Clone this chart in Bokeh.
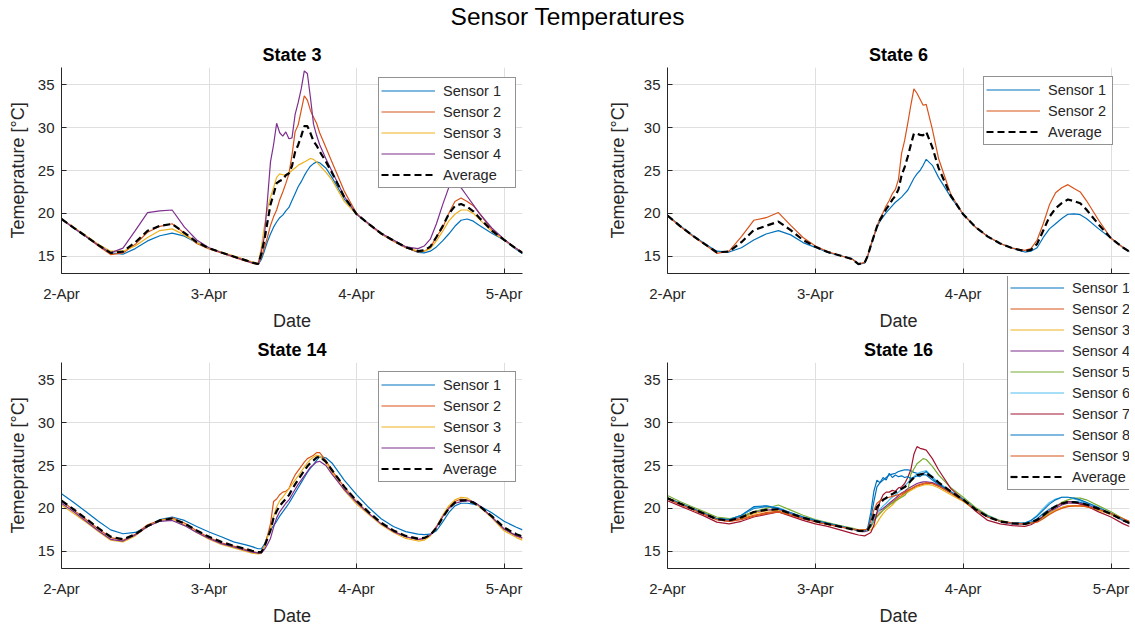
import numpy as np
from bokeh.plotting import figure
from bokeh.models import Range1d, FixedTicker, Legend, LegendItem, Div
from bokeh.layouts import column, row
from bokeh.embed import file_html
from bokeh.resources import INLINE

# ---------------- data ----------------
hours = [0, 2, 4, 6, 8, 10, 12, 14, 16, 18, 20, 22, 24, 26, 28, 30,
         31, 32, 32.5, 33, 33.5, 34, 34.5, 35, 35.5, 36, 36.5, 37, 37.5, 38, 38.5, 39, 39.5, 40, 40.5, 41, 41.5, 42,
         43, 44, 46, 48, 50, 52, 54, 56, 58,
         59, 60, 61, 62, 63, 64, 65, 66, 67, 68,
         70, 72, 74, 75]
tick_labels = ["2-Apr", "3-Apr", "4-Apr", "5-Apr"]
y_ticks = [15, 20, 25, 30, 35]

# State 3
s3_sensor1 = [19.35, 18.3, 17.3, 16.3, 15.4, 15.25, 15.9, 16.8, 17.4, 17.7, 17.35, 16.6, 15.95, 15.45, 15.0, 14.55,
              14.3, 14.1, 14.6, 15.6, 16.7, 17.6, 18.4, 19.0, 19.5, 19.8, 20.3, 20.7, 21.5, 22.3, 23.1, 23.7, 24.4, 25.0, 25.5, 25.8, 26.0, 25.9,
              25.3, 24.2, 21.7, 19.9, 18.8, 17.65, 16.85, 16.05, 15.45,
              15.4, 15.6, 16.1, 16.8, 17.6, 18.5, 19.2, 19.35, 19.1, 18.6,
              17.7, 16.9, 15.8, 15.3]
s3_sensor2 = [19.35, 18.3, 17.3, 16.2, 15.2, 15.4, 16.4, 17.8, 18.5, 18.8, 17.7, 16.5, 15.85, 15.4, 14.9, 14.45,
              14.2, 14.05, 14.9, 16.0, 17.2, 18.6, 19.6, 20.4, 21.6, 22.5, 23.5, 24.6, 26.8, 29.5, 30.3, 32.0, 33.7, 33.2, 32.0, 31.2, 30.5, 29.4,
              27.7, 26.0, 22.6, 20.0, 18.7, 17.6, 16.75, 16.0, 15.5,
              15.6, 16.0, 17.3, 18.3, 20.0, 21.4, 21.8, 21.4, 20.9, 20.0,
              18.1, 16.9, 15.9, 15.5]
s3_sensor3 = [19.35, 18.4, 17.4, 16.4, 15.6, 15.6, 16.2, 17.2, 18.0, 18.2, 17.5, 16.6, 15.95, 15.5, 15.05, 14.6,
              14.35, 14.2, 16.0, 18.5, 20.5, 21.9, 23.0, 24.2, 24.6, 24.5, 24.5, 24.7, 25.0, 25.3, 25.6, 25.8, 26.0, 26.2, 26.4, 26.3, 26.0, 25.6,
              24.8, 23.9, 21.4, 19.9, 18.8, 17.7, 16.85, 16.1, 15.6,
              15.6, 15.9, 16.8, 17.9, 19.1, 19.9, 20.4, 20.4, 20.0, 19.3,
              17.9, 16.9, 15.9, 15.4]
s3_sensor4 = [19.35, 18.3, 17.3, 16.3, 15.4, 15.95, 18.0, 20.1, 20.3, 20.4, 18.4, 16.9, 16.0, 15.45, 14.95, 14.5,
              14.25, 14.1, 15.5, 17.3, 21.5, 26.0, 28.0, 30.5, 29.4, 29.0, 29.5, 28.7, 28.8, 31.5, 32.9, 34.5, 36.6, 36.3, 33.5, 30.4, 29.1, 28.0,
              26.4, 24.9, 22.0, 19.9, 18.8, 17.7, 16.9, 16.1, 15.9,
              16.2, 17.0, 18.8, 21.0, 23.0, 23.6, 23.0, 22.0, 21.0, 20.0,
              18.3, 17.0, 15.9, 15.4]

# State 6
s6_sensor1 = [19.75, 18.6, 17.5, 16.5, 15.6, 15.5, 16.0, 16.9, 17.6, 18.0, 17.5, 16.6, 16.05, 15.45, 15.1, 14.7,
              14.1, 14.2, 15.0, 16.2, 17.3, 18.4, 19.1, 19.6, 20.1, 20.5, 20.9, 21.3, 21.6, 21.9, 22.3, 22.7, 23.4, 24.1, 24.6, 25.0, 25.6, 26.3,
              25.6, 24.2, 21.9, 19.9, 18.4, 17.3, 16.5, 15.95, 15.5,
              15.6, 16.0, 17.2, 18.2, 18.8, 19.4, 19.9, 19.95, 19.85, 19.4,
              18.2, 17.1, 16.0, 15.5]
s6_sensor2 = [19.75, 18.5, 17.4, 16.4, 15.35, 15.6, 17.3, 19.2, 19.5, 20.1, 18.6, 17.2, 16.2, 15.55, 15.1, 14.65,
              14.1, 14.3, 15.1, 16.3, 17.4, 18.5, 19.4, 20.1, 20.9, 21.5, 22.3, 22.8, 24.0, 27.0, 28.5, 30.5, 32.6, 34.5, 34.0, 33.3, 32.6, 32.7,
              29.8, 26.4, 22.2, 19.9, 18.4, 17.3, 16.5, 15.95, 15.7,
              15.9, 16.9, 18.8, 21.0, 22.4, 23.0, 23.35, 22.9, 22.5, 21.5,
              19.2, 17.1, 16.0, 15.6]

# State 14
s14_sensor1 = [21.7, 20.7, 19.6, 18.5, 17.5, 17.05, 17.2, 17.9, 18.7, 19.0, 18.6, 17.9, 17.25, 16.7, 16.1, 15.75,
               15.55, 15.3, 15.3, 15.8, 16.7, 17.5, 18.0, 18.5, 19.1, 19.6, 20.1, 20.6, 21.2, 21.8, 22.4, 23.0, 23.6, 24.2, 24.7, 25.1, 25.6, 26.0,
               25.9, 25.3, 23.3, 21.6, 20.1, 18.8, 17.9, 17.3, 17.0,
               16.95, 17.0, 17.4, 18.4, 19.5, 20.3, 20.6, 20.6, 20.5, 20.3,
               19.5, 18.5, 17.8, 17.5]
s14_sensor2 = [20.9, 19.8, 18.7, 17.6, 16.6, 16.3, 17.0, 18.1, 18.6, 18.9, 18.3, 17.4, 16.6, 16.0, 15.6, 15.2,
               15.0, 14.8, 14.8, 15.6, 16.8, 18.2, 20.8, 21.1, 21.6, 21.9, 22.0, 22.3, 23.2, 23.9, 24.4, 24.9, 25.4, 25.8, 26.0, 26.2, 26.5, 26.5,
               25.6, 24.4, 22.5, 20.8, 19.4, 18.2, 17.35, 16.7, 16.35,
               16.5, 16.9, 17.9, 19.1, 20.1, 20.8, 21.1, 21.0, 20.7, 20.3,
               19.0, 17.6, 16.8, 16.5]
s14_sensor3 = [20.4, 19.4, 18.4, 17.3, 16.3, 16.1, 16.8, 17.9, 18.6, 18.8, 18.1, 17.2, 16.4, 15.8, 15.4, 15.0,
               14.8, 14.7, 14.75, 15.5, 16.6, 17.6, 19.0, 20.2, 20.9, 21.3, 21.8, 22.3, 22.8, 23.3, 23.8, 24.3, 24.8, 25.3, 25.7, 26.0, 26.2, 26.1,
               25.3, 24.2, 22.1, 20.5, 19.3, 18.1, 17.2, 16.5, 16.2,
               16.3, 16.8, 17.8, 19.2, 20.3, 21.0, 21.3, 21.2, 20.7, 20.2,
               18.9, 17.4, 16.6, 16.3]
s14_sensor4 = [20.6, 19.6, 18.5, 17.4, 16.4, 16.2, 16.9, 17.9, 18.5, 18.6, 18.0, 17.2, 16.5, 15.9, 15.5, 15.1,
               14.9, 14.8, 14.8, 15.2, 15.8, 16.5, 17.8, 18.9, 19.6, 20.1, 20.6, 21.0, 21.6, 22.2, 22.8, 23.3, 23.8, 24.3, 24.8, 25.1, 25.4, 25.5,
               25.0, 24.0, 22.2, 20.7, 19.4, 18.2, 17.3, 16.7, 16.4,
               16.5, 16.9, 17.8, 19.0, 20.0, 20.6, 20.8, 20.9, 20.8, 20.3,
               19.0, 17.6, 16.8, 16.6]

# State 16
s16_sensor1 = [21.2, 20.6, 20.0, 19.4, 18.8, 18.7, 19.2, 20.0, 20.2, 20.0, 19.5, 19.0, 18.6, 18.25, 17.95, 17.6,
               17.45, 17.4, 17.6, 18.8, 20.8, 22.5, 23.0, 23.3, 23.6, 23.9, 24.0, 24.1, 24.3, 24.4, 24.5, 24.5, 24.4, 24.2, 24.1, 24.0, 23.9, 23.9,
               23.3, 22.8, 21.9, 21.1, 19.95, 19.1, 18.5, 18.3, 18.2,
               18.4, 18.8, 19.4, 19.9, 20.3, 20.6, 20.8, 20.8, 20.7, 20.5,
               20.0, 19.4, 18.6, 18.3]
s16_sensor2 = [21.1, 20.5, 19.9, 19.3, 18.7, 18.5, 18.8, 19.2, 19.5, 19.7, 19.3, 18.8, 18.45, 18.15, 17.85, 17.55,
               17.45, 17.5, 17.5, 17.9, 18.6, 19.1, 19.5, 19.8, 20.1, 20.4, 20.7, 21.0, 21.3, 21.5, 21.8, 22.0, 22.2, 22.4, 22.6, 22.7, 22.8, 22.9,
               22.9, 22.6, 21.8, 20.9, 19.9, 19.0, 18.5, 18.25, 18.2,
               18.3, 18.5, 18.9, 19.4, 19.8, 20.1, 20.3, 20.3, 20.3, 20.2,
               19.8, 19.3, 18.6, 18.4]
s16_sensor3 = [21.2, 20.6, 20.0, 19.4, 18.8, 18.6, 18.9, 19.4, 19.7, 19.8, 19.3, 18.85, 18.5, 18.2, 17.9, 17.6,
               17.45, 17.4, 17.4, 17.5, 17.8, 18.3, 18.9, 19.4, 19.8, 20.1, 20.4, 20.8, 21.1, 21.4, 21.6, 21.9, 22.1, 22.3, 22.5, 22.6, 22.7, 22.8,
               22.7, 22.4, 21.6, 20.8, 19.8, 19.0, 18.5, 18.3, 18.2,
               18.3, 18.5, 18.9, 19.4, 19.8, 20.1, 20.3, 20.3, 20.3, 20.2,
               19.8, 19.3, 18.6, 18.3]
s16_sensor4 = [21.2, 20.6, 20.0, 19.4, 18.8, 18.6, 19.0, 19.6, 19.8, 19.9, 19.4, 18.9, 18.5, 18.2, 17.9, 17.6,
               17.4, 17.3, 17.4, 18.0, 18.9, 19.5, 19.8, 20.0, 20.3, 20.6, 20.9, 21.2, 21.5, 21.8, 22.0, 22.3, 22.5, 22.7, 22.9, 23.0, 23.1, 23.1,
               23.0, 22.7, 21.9, 21.0, 19.9, 19.0, 18.5, 18.2, 18.2,
               18.3, 18.6, 19.1, 19.6, 20.0, 20.4, 20.6, 20.6, 20.6, 20.4,
               20.0, 19.4, 18.6, 18.2]
s16_sensor5 = [21.5, 20.8, 20.2, 19.6, 19.0, 18.8, 19.1, 19.6, 20.0, 20.4, 19.8, 19.2, 18.7, 18.35, 18.0, 17.7,
               17.5, 17.5, 17.5, 17.8, 18.5, 19.0, 19.4, 19.8, 20.1, 20.4, 20.6, 20.9, 21.1, 21.3, 21.5, 22.0, 24.0, 24.6, 25.2, 25.5, 25.8, 25.7,
               24.9, 23.9, 22.4, 21.3, 20.1, 19.2, 18.6, 18.3, 18.2,
               18.3, 18.5, 19.0, 19.6, 20.2, 20.7, 21.0, 21.2, 21.2, 21.0,
               20.3, 19.6, 18.8, 18.4]
s16_sensor6 = [21.2, 20.6, 20.0, 19.4, 18.8, 18.7, 19.2, 20.1, 20.3, 20.1, 19.5, 19.0, 18.6, 18.25, 17.95, 17.6,
               17.45, 17.4, 17.5, 18.0, 18.8, 19.4, 19.9, 20.3, 20.6, 21.0, 21.3, 21.6, 21.9, 22.2, 22.6, 23.0, 23.4, 23.7, 24.0, 24.2, 24.3, 24.4,
               23.7, 23.0, 22.0, 21.1, 19.9, 19.1, 18.5, 18.3, 18.3,
               18.6, 19.2, 20.0, 20.7, 21.1, 21.3, 21.3, 21.1, 20.9, 20.6,
               20.0, 19.4, 18.6, 18.3]
s16_sensor7 = [20.9, 20.3, 19.7, 19.1, 18.4, 18.2, 18.5, 19.0, 19.3, 19.6, 19.1, 18.6, 18.2, 17.9, 17.5, 17.1,
               16.9, 16.8, 17.0, 17.2, 18.0, 19.5, 20.8, 21.6, 21.9, 21.9, 22.1, 22.0, 22.4, 22.5, 22.9, 23.6, 24.5, 26.3, 27.2, 27.0, 26.9, 26.8,
               25.8, 24.5, 22.3, 21.0, 19.7, 18.6, 18.2, 18.0, 17.9,
               18.1, 18.5, 19.1, 19.7, 20.2, 20.6, 20.8, 20.7, 20.5, 20.3,
               19.6, 19.0, 18.2, 17.9]
s16_sensor8 = [21.2, 20.6, 20.0, 19.4, 18.8, 18.7, 19.2, 20.2, 20.3, 20.0, 19.5, 19.0, 18.6, 18.25, 17.95, 17.6,
               17.45, 17.4, 17.7, 19.5, 22.0, 23.3, 23.0, 23.6, 23.3, 24.1, 23.6, 23.9, 23.7, 23.8, 23.6, 23.7, 23.5, 23.6, 23.8, 23.7, 24.0, 24.3,
               23.5, 22.9, 21.9, 21.0, 19.9, 19.1, 18.5, 18.3, 18.3,
               18.6, 19.1, 19.8, 20.5, 21.0, 21.3, 21.3, 21.2, 21.0, 20.7,
               20.1, 19.4, 18.6, 18.3]
s16_sensor9 = [21.1, 20.5, 19.9, 19.3, 18.7, 18.5, 18.7, 19.1, 19.4, 19.6, 19.2, 18.8, 18.45, 18.15, 17.85, 17.6,
               17.5, 17.5, 17.6, 18.5, 19.8, 20.6, 20.9, 21.1, 21.2, 21.3, 21.4, 21.5, 21.6, 21.7, 21.9, 22.1, 22.3, 22.5, 22.7, 22.8, 22.9, 23.0,
               22.9, 22.6, 21.8, 20.9, 19.9, 19.0, 18.5, 18.3, 18.2,
               18.3, 18.4, 18.8, 19.3, 19.7, 20.0, 20.2, 20.3, 20.3, 20.2,
               19.9, 19.4, 18.8, 18.5]

panels = [
    ("State 3", [s3_sensor1, s3_sensor2, s3_sensor3, s3_sensor4]),
    ("State 6", [s6_sensor1, s6_sensor2]),
    ("State 14", [s14_sensor1, s14_sensor2, s14_sensor3, s14_sensor4]),
    ("State 16", [s16_sensor1, s16_sensor2, s16_sensor3, s16_sensor4, s16_sensor5,
                  s16_sensor6, s16_sensor7, s16_sensor8, s16_sensor9]),
]

# ---------------- styling ----------------
COLORS = ["#0072BD", "#D95319", "#EDB120", "#7E2F8E", "#77AC30",
          "#4DBEEE", "#A2142F", "#0072BD", "#D95319"]
FONT = "Liberation Sans"
TXT = "#262626"
SENSOR_W = 1.2
AVG_W = 2.2
AVG_DASH = "7 4"

days = np.array(hours) / 24.0


def style_legend(leg, label_width):
    leg.border_line_color = TXT
    leg.border_line_width = 1
    leg.background_fill_color = "white"
    leg.background_fill_alpha = 1.0
    leg.label_text_font = FONT
    leg.label_text_font_size = "14.5px"
    leg.label_text_color = TXT
    leg.glyph_width = 54
    leg.glyph_height = 21
    leg.label_height = 21
    leg.label_width = label_width
    leg.label_standoff = 8
    leg.spacing = 0
    leg.padding = 2
    leg.margin = 0


def add_series(p, sensors, visible=True):
    items = []
    for i, s in enumerate(sensors):
        r = p.line(days, s, line_color=COLORS[i], line_width=SENSOR_W, visible=visible)
        items.append(LegendItem(label=f"Sensor {i + 1}", renderers=[r]))
    avg = np.mean(np.array(sensors), axis=0)
    r = p.line(days, avg, line_color="black", line_width=AVG_W, line_dash=AVG_DASH, visible=visible)
    items.append(LegendItem(label="Average", renderers=[r]))
    return items


def make_panel(title, sensors, width, height, bl, br, bt, bb, ylab_standoff,
               leg_loc=None, leg_label_width=70):
    p = figure(width=width, height=height, x_range=Range1d(0, 3.125), y_range=Range1d(13, 37),
               output_backend="svg", toolbar_location=None,
               min_border_left=bl, min_border_right=br, min_border_top=bt, min_border_bottom=bb)
    p.border_fill_color = None
    p.background_fill_color = "white"
    p.outline_line_color = None

    p.title.text = title
    p.title.align = "center"
    p.title.text_font = FONT
    p.title.text_font_size = "18px"
    p.title.text_font_style = "bold"
    p.title.text_color = "#000000"
    p.title.standoff = 6

    p.xaxis.ticker = FixedTicker(ticks=list(range(len(tick_labels))))
    p.xaxis.major_label_overrides = {i: lab for i, lab in enumerate(tick_labels)}
    p.yaxis.ticker = FixedTicker(ticks=y_ticks)
    p.xaxis.axis_label = "Date"
    p.yaxis.axis_label = "Temeprature [°C]"
    for ax in (p.xaxis[0], p.yaxis[0]):
        ax.axis_line_color = TXT
        ax.axis_line_width = 1
        ax.major_tick_line_color = TXT
        ax.major_tick_in = 5
        ax.major_tick_out = 0
        ax.minor_tick_line_color = None
        ax.major_label_text_font = FONT
        ax.major_label_text_font_size = "15px"
        ax.major_label_text_color = TXT
        ax.axis_label_text_font = FONT
        ax.axis_label_text_font_size = "18px"
        ax.axis_label_text_font_style = "normal"
        ax.axis_label_text_color = TXT
    p.xaxis.major_label_standoff = 11
    p.xaxis.axis_label_standoff = 6
    p.yaxis.major_label_standoff = 7
    p.yaxis.axis_label_standoff = ylab_standoff

    p.grid.grid_line_color = "#dfdfdf"
    p.grid.grid_line_width = 1

    items = add_series(p, sensors)
    if leg_loc is not None:
        leg = Legend(items=items, location=leg_loc)
        style_legend(leg, leg_label_width)
        p.add_layout(leg)
    return p


p_tl = make_panel(panels[0][0], panels[0][1], 567, 299, 61, 45, 33, 55, 7, (317, 85), 70)
p_tr = make_panel(panels[1][0], panels[1][1], 568, 299, 100, 6, 33, 55, 13, (316, 128), 62)
p_bl = make_panel(panels[2][0], panels[2][1], 567, 295, 61, 45, 29, 57, 7, (317, 86), 70)
p_br = make_panel(panels[3][0], panels[3][1], 568, 295, 100, 6, 29, 57, 13, None)

# The State 16 legend sits partly outside its axes (over the upper panel's tick labels),
# so it is drawn in a transparent overlay canvas spanning the right column; the series
# it keys are the same State 16 data, kept hidden there (they are drawn in p_br).
# (Bokeh aligns this canvas' frame with the column's frames, i.e. 100 px from its left.)
leg_fig = figure(width=568, height=220, x_range=Range1d(0, 3.125), y_range=Range1d(13, 37),
                 output_backend="svg", toolbar_location=None,
                 x_axis_location=None, y_axis_location=None,
                 min_border_left=100, min_border_right=6, min_border_top=0, min_border_bottom=0)
leg_fig.border_fill_color = None
leg_fig.background_fill_color = None
leg_fig.outline_line_color = None
leg_fig.grid.visible = False
leg_items = add_series(leg_fig, panels[3][1], visible=False)
leg16 = Legend(items=leg_items, location=(340, 6))
style_legend(leg16, 58)
leg_fig.add_layout(leg16)
leg_fig.margin = (276 - 628, 0, 0, 0)

title_div = Div(
    text='<div style="width:1135px;text-align:center;font-family:\'Liberation Sans\';'
         'font-size:24.5px;line-height:34px;color:#000000;">Sensor Temperatures</div>',
    width=1135, height=34, margin=0)

layout = column(title_div,
                row(column(p_tl, p_bl, spacing=0),
                    column(p_tr, p_br, leg_fig, spacing=0), spacing=0),
                spacing=0)

html = file_html(layout, INLINE, title="Sensor Temperatures")
with open("out.html", "w") as f:
    f.write(html)
